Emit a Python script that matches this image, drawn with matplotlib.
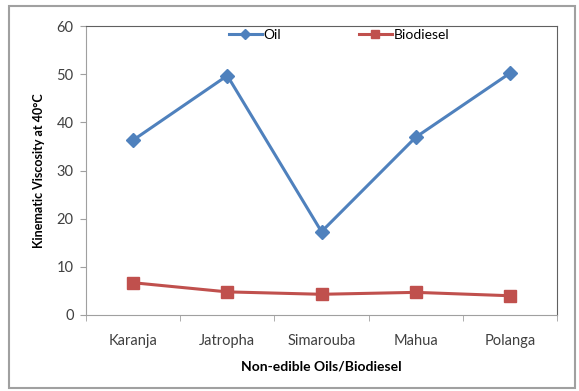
import numpy as np
import matplotlib.pyplot as plt
from matplotlib.patches import Rectangle

categories = ["Karanja", "Jatropha", "Simarouba", "Mahua", "Polanga"]
oil = [36.3, 49.7, 17.3, 36.9, 50.2]
biodiesel = [6.7, 4.8, 4.3, 4.7, 4.0]

plt.rcParams['font.family'] = ['Lato', 'DejaVu Sans']

fig = plt.figure(figsize=(5.79, 3.91), dpi=100)
ax = fig.add_axes([86/579, 1-315/391, (557-86)/579, (315-26)/391])

# outer chart border
fig.patches.append(Rectangle((9/579, 3/391), 566/579, 382/391, transform=fig.transFigure,
                             fill=False, edgecolor='#a0a0a0', lw=1.5))

x = np.arange(len(categories))
ax.plot(x, oil, color='#4F81BD', lw=2.2, marker='D', ms=7, label='Oil')
ax.plot(x, biodiesel, color='#C0504D', lw=2.2, marker='s', ms=8, label='Biodiesel')

ax.set_xlim(-0.5, len(categories) - 0.5)
ax.set_ylim(0, 60)
ax.set_yticks(np.arange(0, 61, 10))
ax.set_xticks(x)
ax.set_xticklabels(categories)
ax.set_xticks(np.arange(-0.5, len(categories)), minor=True)
ax.tick_params(axis='x', which='major', length=0, pad=14, labelsize=10.5, colors='#404040')
ax.tick_params(axis='x', which='minor', length=4, direction='out', color='#a0a0a0')
ax.tick_params(axis='y', length=4, color='#a0a0a0', labelsize=10.5, colors='#404040', pad=5)
for s in ax.spines.values():
    s.set_color('#a0a0a0')
ax.spines['top'].set_color('#606060')
ax.spines['right'].set_color('#606060')

ax.set_ylabel('Kinematic Viscosity at 40°C', fontsize=9, fontweight='bold', labelpad=8)
ax.set_xlabel('Non-edible Oils/Biodiesel', fontsize=10, fontweight='bold', labelpad=9)

ax.legend(loc='upper center', ncol=2, frameon=False, fontsize=10, handlelength=2.4,
          handletextpad=0.1, columnspacing=5.6, borderaxespad=0.0, markerscale=0.8,
          bbox_to_anchor=(0.537, 1.01))

plt.savefig('out.png', dpi=100)
